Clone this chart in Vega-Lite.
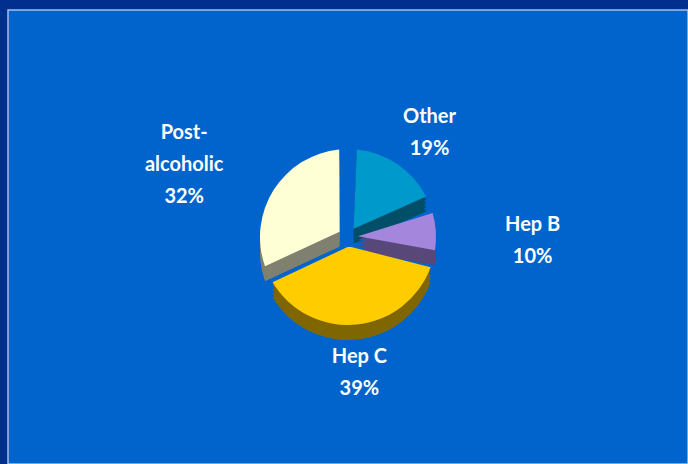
{
  "$schema": "https://vega.github.io/schema/vega-lite/v6.json",
  "width": 688,
  "height": 464,
  "autosize": {"type": "fit", "contains": "padding"},
  "padding": {"left": 8, "top": 10, "right": 0, "bottom": 0},
  "background": "#002F8E",
  "view": {"fill": "#0064CC", "stroke": "#A8BDE6", "strokeWidth": 1.5},
  "data": {
    "values": [
      {"category": "Other", "percent": 19, "idx": 1, "label": "Other\n19%"},
      {"category": "Hep B", "percent": 10, "idx": 2, "label": "Hep B\n10%"},
      {"category": "Hep C", "percent": 39, "idx": 3, "label": "Hep C\n39%"},
      {"category": "Post-alcoholic", "percent": 32, "idx": 4, "label": "Post-\nalcoholic\n32%"}
    ]
  },
  "encoding": {
    "theta": {"field": "percent", "type": "quantitative", "stack": true},
    "order": {"field": "idx", "type": "quantitative"}
  },
  "layer": [
    {
      "mark": {"type": "arc", "radius": 88, "innerRadius": 10, "padAngle": 0.2, "yOffset": 15},
      "encoding": {"color": {"field": "category", "type": "nominal", "legend": null,
        "scale": {"domain": ["Other", "Hep B", "Hep C", "Post-alcoholic"], "range": ["#004E68", "#58487A", "#806600", "#808070"]}}}
    },
    {
      "mark": {"type": "arc", "radius": 88, "innerRadius": 10, "padAngle": 0.2, "yOffset": 11},
      "encoding": {"color": {"field": "category", "type": "nominal", "legend": null,
        "scale": {"domain": ["Other", "Hep B", "Hep C", "Post-alcoholic"], "range": ["#004E68", "#58487A", "#806600", "#808070"]}}}
    },
    {
      "mark": {"type": "arc", "radius": 88, "innerRadius": 10, "padAngle": 0.2, "yOffset": 7},
      "encoding": {"color": {"field": "category", "type": "nominal", "legend": null,
        "scale": {"domain": ["Other", "Hep B", "Hep C", "Post-alcoholic"], "range": ["#004E68", "#58487A", "#806600", "#808070"]}}}
    },
    {
      "mark": {"type": "arc", "radius": 88, "innerRadius": 10, "padAngle": 0.2, "yOffset": 3},
      "encoding": {"color": {"field": "category", "type": "nominal", "legend": null,
        "scale": {"domain": ["Other", "Hep B", "Hep C", "Post-alcoholic"], "range": ["#004E68", "#58487A", "#806600", "#808070"]}}}
    },
    {
      "mark": {"type": "arc", "radius": 88, "innerRadius": 10, "padAngle": 0.2},
      "encoding": {"color": {"field": "category", "type": "nominal", "legend": null,
        "scale": {"domain": ["Other", "Hep B", "Hep C", "Post-alcoholic"], "range": ["#0099CC", "#A486DD", "#FFCC00", "#FFFFD5"]}}}
    },
    {
      "mark": {"type": "text", "radius": 145, "lineBreak": "\n", "lineHeight": 32, "font": "Lato", "fontSize": 20, "fontWeight": "bold", "color": "#FFFFFF", "align": "center", "baseline": "middle"},
      "encoding": {"text": {"condition": {"test": "datum.category === 'Other'", "field": "label"}, "value": ""}}
    },
    {
      "mark": {"type": "text", "radius": 185, "lineBreak": "\n", "lineHeight": 32, "font": "Lato", "fontSize": 20, "fontWeight": "bold", "color": "#FFFFFF", "align": "center", "baseline": "middle"},
      "encoding": {"text": {"condition": {"test": "datum.category === 'Hep B'", "field": "label"}, "value": ""}}
    },
    {
      "mark": {"type": "text", "radius": 121, "lineBreak": "\n", "lineHeight": 32, "font": "Lato", "fontSize": 20, "fontWeight": "bold", "color": "#FFFFFF", "align": "center", "baseline": "middle"},
      "encoding": {"text": {"condition": {"test": "datum.category === 'Hep C'", "field": "label"}, "value": ""}}
    },
    {
      "mark": {"type": "text", "radius": 194, "lineBreak": "\n", "lineHeight": 32, "font": "Lato", "fontSize": 20, "fontWeight": "bold", "color": "#FFFFFF", "align": "center", "baseline": "middle"},
      "encoding": {"text": {"condition": {"test": "datum.category === 'Post-alcoholic'", "field": "label"}, "value": ""}}
    }
  ],
  "resolve": {"scale": {"color": "independent"}}
}
